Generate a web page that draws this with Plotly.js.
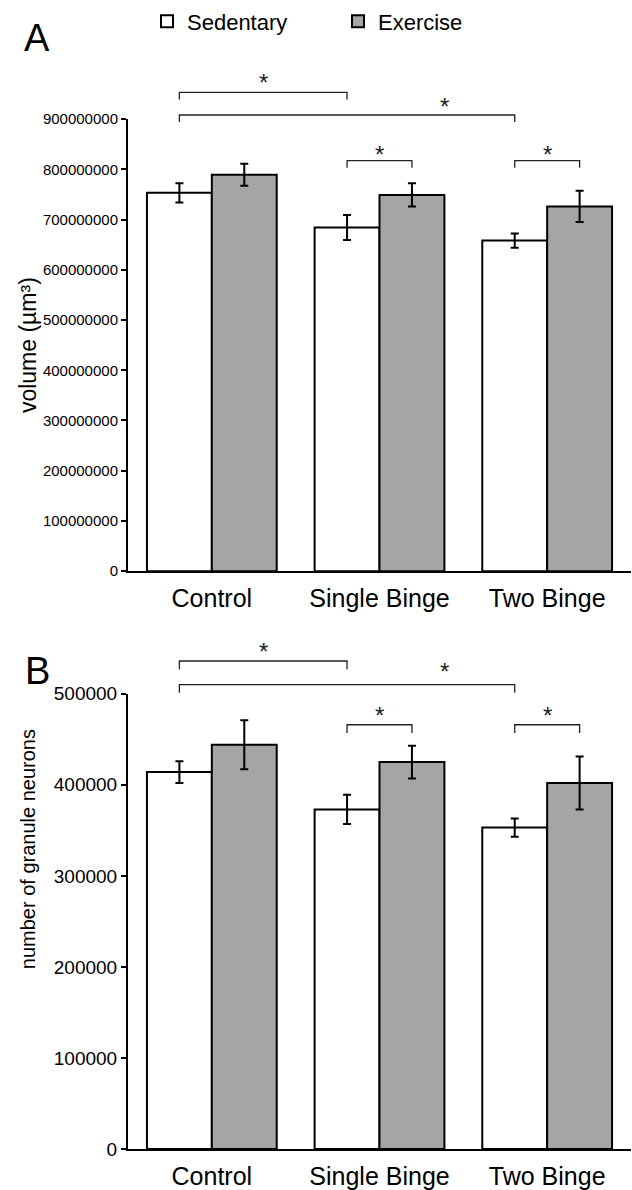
<!DOCTYPE html>
<html>
<head>
<meta charset="utf-8">
<script src="https://cdn.plot.ly/plotly-3.0.1.min.js"></script>
<style>html,body{margin:0;padding:0;background:#fff;}#chart{width:632px;height:1190px;}</style>
</head>
<body>
<div id="chart"></div>
<script>
// ---- data ----
var categories = ['Control', 'Single Binge', 'Two Binge'];
var seriesNames = ['Sedentary', 'Exercise'];

var volumeSedentary = [753e6, 684e6, 658e6];
var volumeSedentaryErr = [19e6, 25e6, 14e6];
var volumeExercise = [789e6, 749e6, 726e6];
var volumeExerciseErr = [22e6, 23e6, 31e6];

var neuronsSedentary = [414000, 373000, 353000];
var neuronsSedentaryErr = [12000, 16000, 10000];
var neuronsExercise = [444000, 425000, 402000];
var neuronsExerciseErr = [27000, 18000, 29000];

var volumeTicks = [0, 100000000, 200000000, 300000000, 400000000, 500000000, 600000000, 700000000, 800000000, 900000000];
var neuronTicks = [0, 100000, 200000, 300000, 400000, 500000];

// significance comparisons: [category, series] pairs
var compsA = [
  {a: [0, 0], b: [1, 0], level: 953e6, drop: 14e6, star: 972e6},
  {a: [0, 0], b: [2, 0], level: 908e6, drop: 14e6, star: 924e6, starX: 1.39},
  {a: [1, 0], b: [1, 1], level: 817e6, drop: 14e6, star: 830e6},
  {a: [2, 0], b: [2, 1], level: 817e6, drop: 14e6, star: 830e6}
];
var compsB = [
  {a: [0, 0], b: [1, 0], level: 536000, drop: 9000, star: 546000},
  {a: [0, 0], b: [2, 0], level: 510000, drop: 9000, star: 525000, starX: 1.39},
  {a: [1, 0], b: [1, 1], level: 466000, drop: 9000, star: 476000},
  {a: [2, 0], b: [2, 1], level: 466000, drop: 9000, star: 476000}
];

// ---- layout geometry ----
var W = 632, H = 1190;
var M = {l: 128, r: 1, t: 115, b: 41};
var PW = W - M.l - M.r, PH = H - M.t - M.b;
var domA = [0.56093, 1];
var domB = [0, 0.44197];
var xRange = [-0.5, 2.5];
var yRangeA = [0, 900000000];
var yRangeB = [0, 500000];
var bargap = 0.226;
var barOffset = (1 - bargap) / 4;

var fontFam = 'Liberation Sans, Arial, Helvetica, sans-serif';
var grey = '#a5a5a5';

function barTrace(name, x, y, err, fill, xa, ya, show) {
  return {
    type: 'bar', name: name, x: x, y: y, xaxis: xa, yaxis: ya,
    showlegend: show, legendgroup: name,
    marker: {color: fill, line: {color: '#000', width: 2}},
    error_y: {type: 'data', array: err, visible: true, color: '#000', thickness: 2, width: 4},
    hoverinfo: 'none'
  };
}

var data = [
  barTrace(seriesNames[0], categories, volumeSedentary, volumeSedentaryErr, '#ffffff', 'x', 'y', true),
  barTrace(seriesNames[1], categories, volumeExercise, volumeExerciseErr, grey, 'x', 'y', true),
  barTrace(seriesNames[0], categories, neuronsSedentary, neuronsSedentaryErr, '#ffffff', 'x2', 'y2', false),
  barTrace(seriesNames[1], categories, neuronsExercise, neuronsExerciseErr, grey, 'x2', 'y2', false)
];

function px(v) { return (v - xRange[0]) / (xRange[1] - xRange[0]); }
function py(v, range, dom) { return dom[0] + (v - range[0]) / (range[1] - range[0]) * (dom[1] - dom[0]); }
function barX(pair) { return pair[0] + (pair[1] === 0 ? -barOffset : barOffset); }
function paperX(pix) { return (pix - M.l) / PW; }
function paperY(pix) { return (H - M.b - pix) / PH; }

var shapes = [], annotations = [];
function addComps(comps, range, dom) {
  comps.forEach(function (c) {
    var x0 = px(barX(c.a)), x1 = px(barX(c.b));
    var yl = py(c.level, range, dom), yd = py(c.level - c.drop, range, dom);
    shapes.push({type: 'path', xref: 'paper', yref: 'paper',
      path: 'M' + x0 + ',' + yd + 'L' + x0 + ',' + yl + 'L' + x1 + ',' + yl + 'L' + x1 + ',' + yd,
      line: {color: '#222', width: 1.3}});
    var sx = c.starX !== undefined ? px(c.starX) : (x0 + x1) / 2;
    annotations.push({xref: 'paper', yref: 'paper', x: sx, y: py(c.star, range, dom),
      text: '*', showarrow: false, xanchor: 'center', yanchor: 'middle',
      font: {family: fontFam, size: 24, color: '#222'}});
  });
}
addComps(compsA, yRangeA, domA);
addComps(compsB, yRangeB, domB);

annotations.push({xref: 'paper', yref: 'paper', x: paperX(37), y: paperY(34),
  text: 'A', showarrow: false, xanchor: 'center', yanchor: 'middle', font: {family: fontFam, size: 38, color: '#000'}});
annotations.push({xref: 'paper', yref: 'paper', x: paperX(37), y: paperY(669),
  text: 'B', showarrow: false, xanchor: 'center', yanchor: 'middle', font: {family: fontFam, size: 38, color: '#000'}});
// y-axis title of panel B (placed off-centre as in the original)
annotations.push({xref: 'paper', yref: 'paper', x: paperX(28), y: paperY(848),
  text: 'number of granule neurons', textangle: -90, showarrow: false, xanchor: 'center', yanchor: 'middle',
  font: {family: fontFam, size: 20, color: '#000'}});

function xAxis(anchor, tickSize) {
  return {
    anchor: anchor, domain: [0, 1], range: xRange, type: 'category',
    showline: true, linecolor: '#000', linewidth: 2, ticks: '', showgrid: false, zeroline: false,
    ticklabelstandoff: 4,
    tickfont: {family: fontFam, size: tickSize, color: '#000'}, fixedrange: true
  };
}
function yAxis(anchor, dom, range, ticks, title, tickSize, titleSize, standoff) {
  return {
    anchor: anchor, domain: dom, range: range, tickvals: ticks, ticktext: ticks.map(String),
    showline: true, linecolor: '#000', linewidth: 2, ticks: 'outside', ticklen: 5, tickwidth: 2, tickcolor: '#000',
    showgrid: false, zeroline: false,
    tickfont: {family: fontFam, size: tickSize, color: '#000'},
    title: {text: title, font: {family: fontFam, size: titleSize, color: '#000'}, standoff: standoff},
    automargin: false, fixedrange: true
  };
}

var layout = {
  width: W, height: H,
  margin: M,
  paper_bgcolor: '#fff', plot_bgcolor: '#fff',
  barmode: 'group', bargap: bargap, bargroupgap: 0,
  font: {family: fontFam, color: '#000'},
  showlegend: true,
  legend: {orientation: 'h', x: paperX(147), y: paperY(-4),
    xanchor: 'left', yanchor: 'top', font: {family: fontFam, size: 22, color: '#000'},
    entrywidth: 146, entrywidthmode: 'pixels', bgcolor: 'rgba(0,0,0,0)', borderwidth: 0},
  xaxis: xAxis('y', 25),
  yaxis: yAxis('x', domA, yRangeA, volumeTicks, 'volume (µm³)', 15, 23, 0),
  xaxis2: xAxis('y2', 25),
  yaxis2: yAxis('x2', domB, yRangeB, neuronTicks, '', 19, 20, 14),
  shapes: shapes,
  annotations: annotations
};

Plotly.newPlot('chart', data, layout, {displayModeBar: false, staticPlot: true});
</script>
</body>
</html>
